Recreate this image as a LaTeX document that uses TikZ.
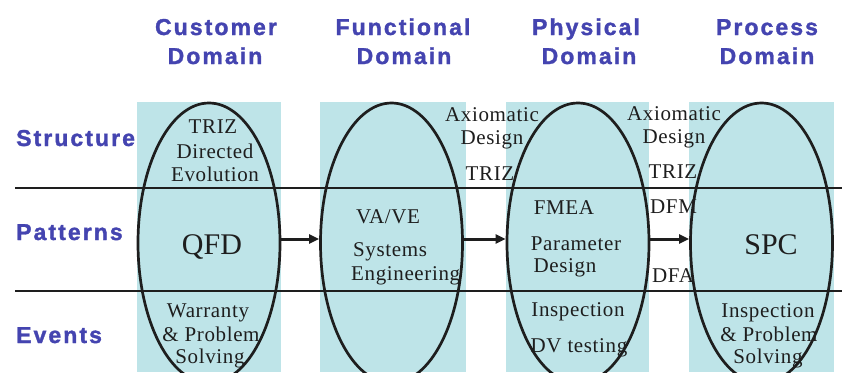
\documentclass[tikz,border=0pt]{standalone}
\usepackage{fontspec}
\usetikzlibrary{shapes.geometric,arrows.meta}
\setmainfont{Liberation Serif}
\newfontfamily\hdfont{Liberation Sans}[UprightFont={* Bold},LetterSpace=9,FakeBold=1.4]
\definecolor{domcyan}{RGB}{190,228,232}
\definecolor{hdblue}{RGB}{68,68,176}
\definecolor{ink}{RGB}{30,30,30}

\begin{document}
\begin{tikzpicture}[x=1pt,y=-1pt,
  head/.style={font={\hdfont\fontsize{23}{27}\selectfont}, text=hdblue, anchor=base, inner sep=0},
  rowlbl/.style={head, anchor=base west},
  lbl/.style={font={\fontsize{21}{24}\selectfont\addfontfeatures{LetterSpace=3}}, text=ink, anchor=base, inner sep=0},
  lblw/.style={lbl, anchor=base west},
  big/.style={font={\fontsize{30}{34}\selectfont}, text=ink, anchor=base, inner sep=0},
  oval/.style={draw=ink, line width=2.7pt, ellipse, minimum width=142pt, minimum height=280pt, inner sep=0},
  band/.style={fill=domcyan},
  rowline/.style={draw=ink, line width=2pt},
  flow/.style={draw=ink, line width=3pt, -{Triangle[length=10pt,width=9pt]}},
]
\useasboundingbox (0,0) rectangle (842,372);
\fill[white] (0,0) rectangle (842,372);

% domain bands
\fill[band] (137,102) rectangle (281,372);
\fill[band] (320,102) rectangle (466,372);
\fill[band] (506,102) rectangle (649,372);
\fill[band] (689,102) rectangle (834,372);

% row separators
\coordinate (l1a) at (15,187.5);
\coordinate (l1b) at (842,187.5);
\coordinate (l2a) at (15,290.5);
\coordinate (l2b) at (842,290.5);
\draw[rowline] (l1a) -- (l1b);
\draw[rowline] (l2a) -- (l2b);

% domain headers
\node[head] (h1a) at (216,35) {Customer};
\node[head] (h1b) at (215,64) {Domain};
\node[head] (h2a) at (403,35) {Functional};
\node[head] (h2b) at (404,64) {Domain};
\node[head] (h3a) at (586,35) {Physical};
\node[head] (h3b) at (589,64) {Domain};
\node[head] (h4a) at (767,35) {Process};
\node[head] (h4b) at (767,64) {Domain};

% row labels
\node[rowlbl] (rs) at (16,146) {Structure};
\node[rowlbl] (rp) at (16,240) {Patterns};
\node[rowlbl] (re) at (16,343) {Events};

% customer domain
\node[lbl] (c1) at (213,133) {TRIZ};
\node[lbl] (c2) at (215,158) {Directed};
\node[lbl] (c3) at (215,181) {Evolution};
\node[big] (qfd) at (212,254) {QFD};
\node[lbl] (c4) at (208,317) {Warranty};
\node[lbl] (c5) at (211,341) {\& Problem};
\node[lbl] (c6) at (210,363) {Solving};

% functional domain
\node[lbl] (f1) at (388,223) {VA/VE};
\node[lblw] (f2) at (353,256) {Systems};
\node[lblw] (f3) at (351,280) {Engineering};

% between functional and physical
\node[lbl] (g1) at (492,121) {Axiomatic};
\node[lbl] (g2) at (492,144) {Design};
\node[lbl] (g3) at (490,180) {TRIZ};

% physical domain
\node[lbl] (p1) at (564,214) {FMEA};
\node[lbl] (p2) at (576,250) {Parameter};
\node[lbl] (p3) at (565,272) {Design};
\node[lbl] (p4) at (578,316) {Inspection};
\node[lbl] (p5) at (579,352) {DV testing};

% between physical and process
\node[lbl] (k1) at (674,120) {Axiomatic};
\node[lbl] (k2) at (674,143) {Design};
\node[lbl] (k3) at (673,178) {TRIZ};
\node[lblw] (k4) at (650,213) {DFM};
\node[lblw] (k5) at (652,282) {DFA};

% process domain
\node[big] (spc) at (771,254) {SPC};
\node[lbl] (s1) at (768,317) {Inspection};
\node[lbl] (s2) at (769,341) {\& Problem};
\node[lbl] (s3) at (768,363) {Solving};

% domain ellipses
\node[oval] (e1) at (209,243) {};
\node[oval] (e2) at (391.5,243) {};
\node[oval] (e3) at (578,243) {};
\node[oval] (e4) at (761.5,243) {};

% mapping arrows
\draw[flow] ([yshift=4pt]e1.east) -- ([yshift=4pt]e2.west);
\draw[flow] ([yshift=4pt]e2.east) -- ([yshift=4pt]e3.west);
\draw[flow] ([yshift=4pt]e3.east) -- ([yshift=4pt]e4.west);
\end{tikzpicture}
\end{document}
